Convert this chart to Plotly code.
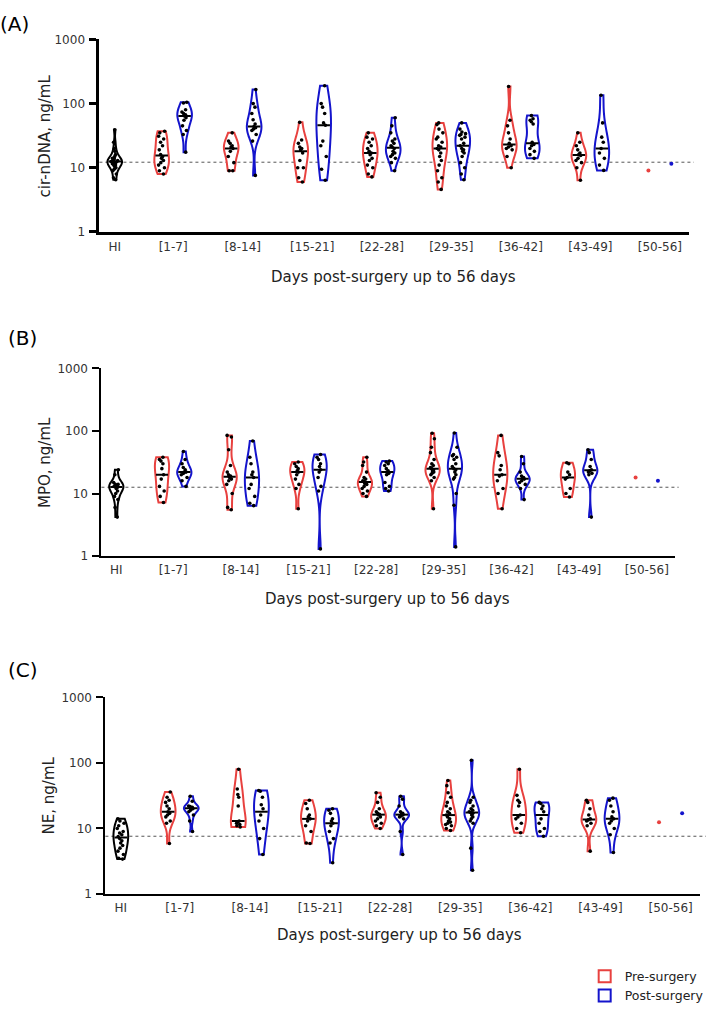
import numpy as np
import plotly.graph_objects as go

# ---------------- data ----------------
groups = ["[1-7]", "[8-14]", "[15-21]", "[22-28]", "[29-35]", "[36-42]", "[43-49]", "[50-56]"]
x_labels = ["HI"] + groups

# Panel A: cir-nDNA (ng/mL)
a_hi = [39, 25, 20, 18, 16, 15, 14, 14, 13.5, 13, 13, 12.5, 12.5, 12, 12, 11.5, 11, 11, 10.5, 10, 9.5, 9, 8, 7, 6.5]
a_pre = [
    [37, 35, 31, 28, 25, 22, 19, 16, 15, 14, 13, 12, 11, 10, 9, 8],
    [35, 26, 24, 22, 21, 20, 18, 15, 12, 9, 9],
    [51, 27, 24, 21, 20, 19, 17, 13, 10, 10, 7, 6],
    [35, 30, 28, 25, 22, 20, 18, 17, 16, 14, 13, 11, 10, 8, 7.2],
    [50, 47, 40, 35, 30, 28, 25, 22, 21, 20, 19, 17, 15, 13, 11, 9, 7, 6, 4.6],
    [185, 55, 45, 35, 28, 24, 22, 21, 20, 19, 15, 10],
    [35, 25, 22, 19, 17, 16, 15.5, 14, 13, 12, 10, 6.4],
    [9.1],
]
a_post = [
    [105, 102, 80, 74, 70, 67, 64, 60, 55, 45, 38, 33, 17.5],
    [165, 100, 88, 70, 56, 48, 44, 42, 40, 38, 33, 26, 7.6],
    [190, 100, 88, 70, 50, 46, 26, 22, 15, 9.5, 6.4],
    [60, 45, 35, 28, 26, 24, 22, 21, 20, 18, 17, 16, 15, 14, 12, 9],
    [50, 40, 36, 34, 33, 32, 30, 28, 24, 22, 20, 19, 18, 17, 15, 12, 10, 8, 6.5],
    [65, 58, 55, 52, 48, 25, 23, 22, 20, 18, 16, 14],
    [135, 50, 30, 25, 20, 17, 14, 11, 9.1],
    [11.5],
]

# Panel B: MPO (ng/mL)
b_hi = [24, 20, 15, 14, 14, 13.5, 13, 13, 12.5, 12, 11, 10, 9, 8, 6, 4.2]
b_pre = [
    [38, 35, 33, 30, 25, 20, 17, 13, 11, 9, 7.2],
    [85, 80, 50, 28, 22, 20, 19, 18, 17, 16, 14, 10, 6, 5.5],
    [32, 30, 27, 25, 23, 22, 20, 17, 14, 12, 5.7],
    [38, 32, 28, 22, 18, 17, 16, 15.5, 15, 14.5, 14, 13, 12, 11, 10, 9],
    [92, 75, 55, 45, 35, 30, 28, 26, 25, 24, 23, 22, 21, 20, 18, 16, 5.7],
    [85, 45, 40, 28, 24, 20, 19, 16, 12, 10, 5.7],
    [31, 30, 22, 20, 18, 17, 12, 10, 8.8],
    [18],
]
b_post = [
    [47, 35, 30, 26, 24, 22, 22, 21, 20, 18, 16, 13],
    [69, 38, 30, 22, 20, 18, 14, 12, 9, 7, 6.4],
    [42, 38, 35, 30, 27, 24, 22, 18, 13, 11, 1.3],
    [33, 32, 30, 28, 25, 23, 22, 21, 20, 15, 13, 12, 11],
    [93, 55, 42, 40, 38, 35, 30, 27, 25, 24, 22, 20, 18, 17, 10, 6.5, 1.4],
    [39, 30, 22, 19, 18, 17.5, 17, 16, 15, 14, 12, 8],
    [50, 45, 35, 27, 24, 23, 22, 21, 20, 4.2],
    [16],
]

# Panel C: NE (ng/mL)
c_hi = [14, 13, 12, 11, 10, 9, 8.5, 8, 7.5, 7, 6.5, 6, 5.5, 5, 4.5, 4, 3.5, 3.4]
c_pre = [
    [36, 30, 27, 25, 22, 20, 18, 17, 16, 15, 13, 12, 5.9],
    [80, 40, 33, 30, 22, 13, 12.5, 12, 11.5, 11, 10.5],
    [27, 24, 20, 16, 15, 14, 13, 11, 9, 6, 5.9],
    [35, 30, 25, 20, 18, 17, 16.5, 16, 15, 14, 13, 12, 11, 10],
    [54, 45, 35, 30, 25, 22, 20, 18, 17, 16, 15, 14, 13, 12.5, 12, 11.5, 11, 10, 9.3],
    [80, 32, 27, 25, 22, 16, 15, 14, 12, 10, 8.6],
    [27, 25, 20, 16, 14, 13.5, 13, 12, 11, 4.5],
    [12.4],
]
c_post = [
    [31, 26, 22, 21.5, 21, 20.5, 20, 19, 18, 16, 13, 9],
    [38, 37, 30, 23, 20, 16, 13, 10, 7, 4],
    [20, 19, 17, 14, 13, 12, 11, 9, 7, 6, 3],
    [31, 28, 22, 18, 17, 16.5, 16, 15.5, 15, 14, 9, 4],
    [110, 30, 27, 25, 22, 20, 19, 18, 17.5, 17, 16, 15, 14, 13, 12, 5, 2.3],
    [25, 24, 22, 20, 18, 14, 12, 10, 9, 7.6],
    [29, 27, 22, 18, 15, 14, 13, 12, 10, 8, 4.3],
    [17],
]

ref_lines = [12.2, 12.6, 7.6]          # dotted reference levels (HI median)
y_titles = ["cir-nDNA, ng/mL", "MPO, ng/mL", "NE, ng/mL"]
panel_tags = ["(A)", "(B)", "(C)"]
y_tickvals = [1, 10, 100, 1000]

# ---------------- style ----------------
RED = "#e8413f"
BLUE = "#1414cc"
FONT = "DejaVu Sans"
HI_POS = 0.0
G0 = 0.84
OFF = 0.165
VW = 0.21
MW = 0.09

panels = [(a_hi, a_pre, a_post), (b_hi, b_pre, b_post), (c_hi, c_pre, c_post)]
xdomains = [[100 / 709, 693 / 709], [102 / 709, 679 / 709], [106 / 709, 704 / 709]]
ydomains = [[1 - 229 / 1011, 1 - 33 / 1011], [1 - 559 / 1011, 1 - 368 / 1011], [1 - 903 / 1011, 1 - 703 / 1011]]
axis_w = [3, 2, 2]
ref_ext = [1.008, 1.006, 1.01]
tag_pos = [(15, 17), (23, 337), (23, 675)]
ytitle_x = [45, 46, 49]
xtitle_pos = [(396, 275), (390, 603), (402, 945)]

fig = go.Figure()


def violin(vals, pos, color, ax, name, show):
    return go.Violin(
        x=[pos] * len(vals), y=np.log10(vals), xaxis=ax[0], yaxis=ax[1],
        name=name, legendgroup=name, showlegend=show,
        line=dict(color=color, width=2), fillcolor="white",
        points="all", pointpos=0, jitter=0.5,
        marker=dict(color="black", size=3.6, line=dict(width=0)),
        spanmode="hard", width=VW, scalemode="width",
        box=dict(visible=False), meanline=dict(visible=False),
        hoverinfo="skip",
    )


for p, (hi, pre, post) in enumerate(panels):
    sx = "" if p == 0 else str(p + 1)
    ax = ("x" + sx, "y" + sx)
    med_x, med_y = [], []
    # HI
    fig.add_trace(violin(hi, HI_POS, "black", ax, "HI", False))
    med_x += [HI_POS - MW, HI_POS + MW, None]
    med_y += [np.log10(np.median(hi))] * 2 + [None]
    for i in range(len(groups)):
        c = G0 + i
        for vals, col, nm, sgn in ((pre[i], RED, "Pre-surgery", -1), (post[i], BLUE, "Post-surgery", 1)):
            pos = c + sgn * OFF
            if len(vals) > 1:
                fig.add_trace(violin(vals, pos, col, ax, nm, p == 0 and i == 0))
                med_x += [pos - MW, pos + MW, None]
                med_y += [np.log10(np.median(vals))] * 2 + [None]
            else:
                fig.add_trace(go.Scatter(
                    x=[pos], y=np.log10(vals), xaxis=ax[0], yaxis=ax[1], mode="markers",
                    marker=dict(color=col, size=4), showlegend=False, hoverinfo="skip"))
    fig.add_trace(go.Scatter(x=med_x, y=med_y, xaxis=ax[0], yaxis=ax[1], mode="lines",
                             line=dict(color="black", width=2), showlegend=False, hoverinfo="skip"))

    xa = dict(domain=xdomains[p], range=[-0.22, 8.26], anchor=ax[1],
              tickvals=[HI_POS] + [G0 + i for i in range(len(groups))], ticktext=x_labels,
              ticks="", showline=True, linecolor="black", linewidth=axis_w[p],
              showgrid=False, zeroline=False, ticklabelstandoff=2,
              tickfont=dict(family=FONT, size=12, color="#333"))
    ya = dict(domain=ydomains[p], range=[0, 3], anchor=ax[0],
              tickvals=list(np.log10(y_tickvals)), ticktext=[str(v) for v in y_tickvals],
              ticks="outside", ticklen=7, tickwidth=axis_w[p], tickcolor="black",
              showline=True, linecolor="black", linewidth=axis_w[p],
              showgrid=False, zeroline=False, ticklabelstandoff=2,
              tickfont=dict(family=FONT, size=12, color="#333"))
    fig.layout["xaxis" + sx] = xa
    fig.layout["yaxis" + sx] = ya

    fig.add_shape(type="line", xref=ax[0] + " domain", yref=ax[1], x0=0, x1=ref_ext[p],
                  y0=np.log10(ref_lines[p]), y1=np.log10(ref_lines[p]),
                  line=dict(color="#555", width=1, dash="dot"), layer="below")

    tx, ty = tag_pos[p]
    fig.add_annotation(text=panel_tags[p], x=tx / 709, y=1 - ty / 1011, xref="paper", yref="paper",
                       xanchor="center", yanchor="middle",
                       showarrow=False, font=dict(family=FONT, size=20, color="black"))
    fig.add_annotation(text=y_titles[p], x=ytitle_x[p] / 709,
                       y=(ydomains[p][0] + ydomains[p][1]) / 2, xref="paper", yref="paper",
                       xanchor="center", yanchor="middle",
                       textangle=-90, showarrow=False, font=dict(family=FONT, size=15, color="#222"))
    xx, xy = xtitle_pos[p]
    fig.add_annotation(text="Days post-surgery up to 56 days", x=xx / 709, y=1 - xy / 1011,
                       xref="paper", yref="paper", showarrow=False,
                       xanchor="center", yanchor="middle",
                       font=dict(family=FONT, size=15, color="#222"))

fig.update_layout(
    width=709, height=1011,
    margin=dict(l=0, r=0, t=0, b=0),
    paper_bgcolor="white", plot_bgcolor="white",
    violinmode="overlay",
    showlegend=True,
    legend=dict(x=588 / 709, y=1 - 972 / 1011, xanchor="left", yanchor="top",
                font=dict(family=FONT, size=12.5, color="#222"), tracegroupgap=0,
                bgcolor="rgba(0,0,0,0)", itemwidth=30),
)

fig.write_html("out.html")
